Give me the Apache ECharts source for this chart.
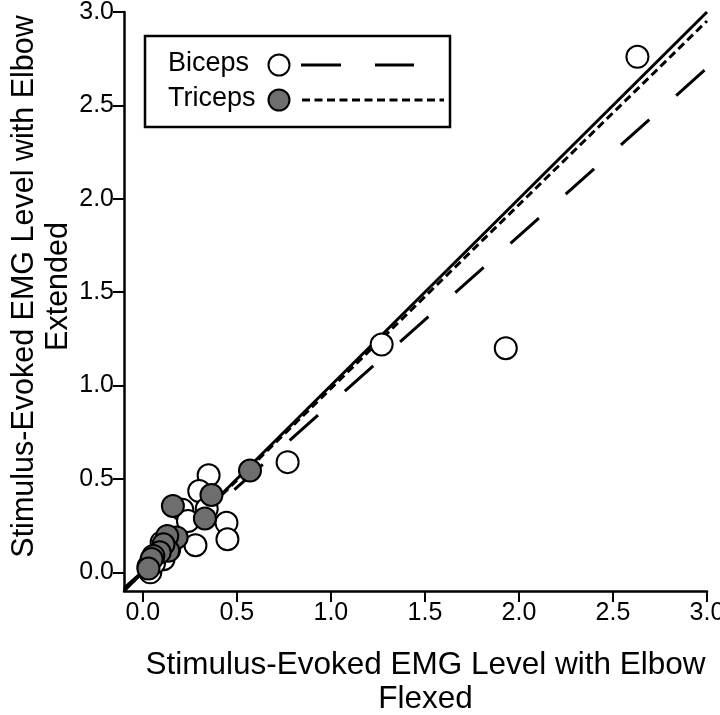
<!DOCTYPE html>
<html>
<head>
<meta charset="utf-8">
<script src="https://cdn.jsdelivr.net/npm/echarts@6/dist/echarts.min.js"></script>
<style>
html,body{margin:0;padding:0;background:#fff;}
#chart{width:720px;height:715px;}
</style>
</head>
<body>
<div id="chart"></div>
<script>
// ---- data ----
const tickValues = [0, 0.5, 1.0, 1.5, 2.0, 2.5, 3.0];

// Biceps (open circles): [flexed, extended]
const bicepsPoints = [
  [2.63, 2.76], [1.93, 1.20], [1.27, 1.22], [0.77, 0.59],
  [0.35, 0.52], [0.30, 0.435], [0.34, 0.34], [0.21, 0.335],
  [0.24, 0.275], [0.445, 0.265], [0.45, 0.177], [0.28, 0.145],
  [0.10, 0.16], [0.11, 0.07], [0.04, 0.00], [0.03, 0.03],
  [0.06, 0.05], [0.14, 0.12]
];
// Triceps (grey circles)
const tricepsPoints = [
  [0.57, 0.545], [0.365, 0.414], [0.16, 0.355], [0.33, 0.288],
  [0.18, 0.187], [0.13, 0.195], [0.135, 0.115], [0.11, 0.15],
  [0.09, 0.107], [0.056, 0.088], [0.047, 0.071], [0.03, 0.02]
];
// Line endpoints
const identityLine = [[-0.1, -0.1], [3.0, 3.0]];
const bicepsFit = [[-0.1, -0.085], [3.0, 2.70]];
const tricepsFit = [[-0.1, -0.098], [3.0, 2.952]];

const legendNames = ['Biceps', 'Triceps'];
const xTitle = 'Stimulus-Evoked EMG Level with Elbow\nFlexed';
const yTitle = 'Stimulus-Evoked EMG Level with Elbow\nExtended';

const FONT = "'Liberation Sans', Arial, Helvetica, sans-serif";
const GREY = '#6e6e6e';

const chart = echarts.init(document.getElementById('chart'), null, {renderer: 'canvas'});

function axisCommon(nameSize) {
  return {
    type: 'value',
    min: -0.1,
    max: 3.0,
    splitLine: {show: false},
    axisLine: {show: true, onZero: false, lineStyle: {color: '#000', width: 2.5}},
    axisTick: {show: true, inside: false, length: 11, customValues: tickValues,
               lineStyle: {color: '#000', width: 2}},
    axisLabel: {show: true, customValues: tickValues, color: '#000',
                fontFamily: FONT, fontSize: 25, margin: 10,
                formatter: v => Number(v).toFixed(1)},
    nameLocation: 'middle',
    nameMoveOverlap: false,
    nameTextStyle: {color: '#000', fontFamily: FONT, fontSize: nameSize, lineHeight: 34, align: 'center'}
  };
}

const xAxis = axisCommon(31.5);
xAxis.name = xTitle;
xAxis.nameGap = 57;
xAxis.nameTextStyle.padding = [0, 0, 0, 20];

const yAxis = axisCommon(30.5);
yAxis.name = yTitle;
yAxis.nameGap = 48;
yAxis.nameRotate = 90;
yAxis.nameTextStyle.padding = [0, 0, 0, 30];

const option = {
  backgroundColor: '#fff',
  animation: false,
  grid: {left: 124, right: 13, top: 12, bottom: 124, containLabel: false, outerBoundsMode: 'none'},
  xAxis: xAxis,
  yAxis: yAxis,
  series: [
    {
      name: 'identity', type: 'line', data: identityLine, symbol: 'none',
      lineStyle: {color: '#000', width: 3}, z: 1, silent: true
    },
    {
      name: 'Biceps fit', type: 'line', data: bicepsFit, symbol: 'none',
      lineStyle: {color: '#000', width: 3, type: [38, 36]}, z: 1, silent: true
    },
    {
      name: 'Triceps fit', type: 'line', data: tricepsFit, symbol: 'none',
      lineStyle: {color: '#000', width: 3, type: [8, 4.5]}, z: 1, silent: true
    },
    {
      name: legendNames[0], type: 'scatter', data: bicepsPoints, symbol: 'circle', symbolSize: 22,
      itemStyle: {color: '#fff', borderColor: '#000', borderWidth: 2, opacity: 1}, z: 3
    },
    {
      name: legendNames[1], type: 'scatter', data: tricepsPoints, symbol: 'circle', symbolSize: 22,
      itemStyle: {color: GREY, borderColor: '#000', borderWidth: 2, opacity: 1}, z: 4
    }
  ],
  graphic: [
    {type: 'rect', shape: {x: 145, y: 36, width: 305, height: 91},
     style: {fill: '#fff', stroke: '#000', lineWidth: 2.5}, z: 10},
    {type: 'text', x: 168, y: 64, style: {text: legendNames[0], fill: '#000', font: '27px ' + FONT,
     textVerticalAlign: 'middle'}, z: 11},
    {type: 'text', x: 168, y: 99, style: {text: legendNames[1], fill: '#000', font: '27px ' + FONT,
     textVerticalAlign: 'middle'}, z: 11},
    {type: 'circle', shape: {cx: 279, cy: 65, r: 10.5}, style: {fill: '#fff', stroke: '#000', lineWidth: 2}, z: 11},
    {type: 'circle', shape: {cx: 279, cy: 100, r: 10.5}, style: {fill: GREY, stroke: '#000', lineWidth: 2}, z: 11},
    {type: 'line', shape: {x1: 301, y1: 65, x2: 341, y2: 65}, style: {stroke: '#000', lineWidth: 3}, z: 11},
    {type: 'line', shape: {x1: 375, y1: 65, x2: 414, y2: 65}, style: {stroke: '#000', lineWidth: 3}, z: 11},
    {type: 'line', shape: {x1: 302, y1: 100, x2: 444, y2: 100}, style: {stroke: '#000', lineWidth: 3, lineDash: [8, 4.5]}, z: 11}
  ]
};
chart.setOption(option);
</script>
</body>
</html>
